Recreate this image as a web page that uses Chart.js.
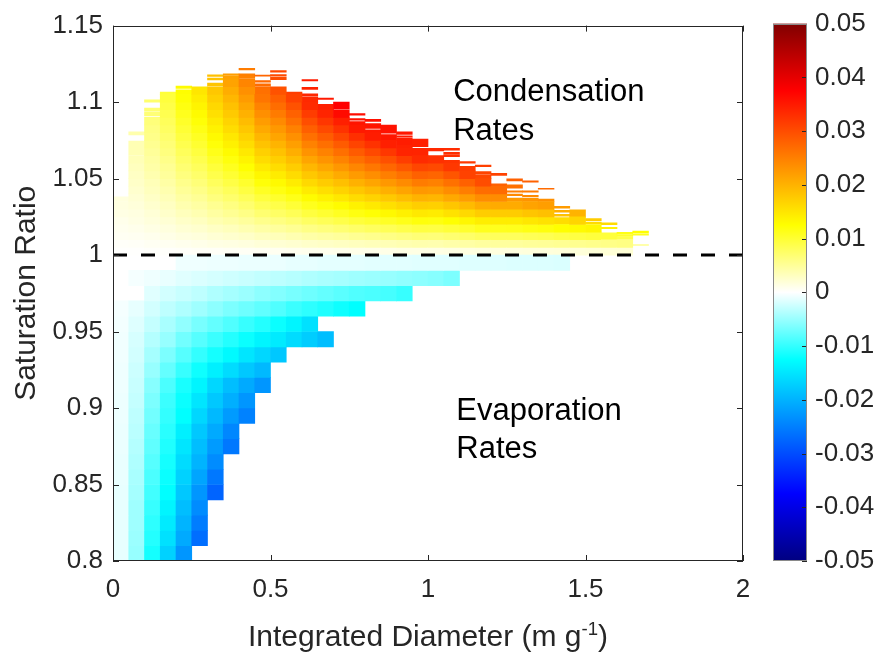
<!DOCTYPE html>
<html>
<head>
<meta charset="utf-8">
<script src="https://cdn.jsdelivr.net/npm/chart.js@4.4.1/dist/chart.umd.min.js"></script>
<style>
  html, body { margin: 0; padding: 0; background: #fff; }
  #wrap { position: relative; width: 877px; height: 654px; overflow: hidden; }
  #main { position: absolute; left: 0; top: 0; }
  #cbar { position: absolute; left: 760px; top: 0; }
  #xtitle {
    position: absolute; left: 113px; width: 630px; top: 619px;
    text-align: center; white-space: nowrap; color: #262626;
    font: 30px "Liberation Sans", Arial, sans-serif; line-height: 34px;
  }
  #xtitle sup { font-size: 0.62em; line-height: 0; vertical-align: 0.6em; }
</style>
</head>
<body>
<div id="wrap">
  <canvas id="main" width="877" height="654"></canvas>
  <canvas id="cbar" width="117" height="654"></canvas>
  <div id="xtitle">Integrated Diameter (m g<sup>-1</sup>)</div>
</div>
<script>
// ---- Data -------------------------------------------------------------
// Left edges of the integrated-diameter bins (m g^-1), each bin 0.05 wide
const diameterEdges = [0.00,0.05,0.10,0.15,0.20,0.25,0.30,0.35,0.40,0.45,0.50,0.55,0.60,0.65,0.70,0.75,0.80,
                       0.85,0.90,0.95,1.00,1.05,1.10,1.15,1.20,1.25,1.30,1.35,1.40,1.45,1.50,1.55,1.60,1.65];
const diameterBin = 0.05;

// Sub-saturated rows: lower edge of each 0.01-tall row, first filled bin, rates (x1e-3)
const evapSaturation = [0.80,0.81,0.82,0.83,0.84,0.85,0.86,0.87,0.88,0.89,0.90,0.91,0.92,0.93,0.94,0.95,0.96,0.97,0.98,0.99];
const evapRow = 0.01;
const evapFirstBin = [0,0,0,0,0,0,0,0,0,0,0,0,0,0,0,0,0,2,1,4];
const evapRates = [
  [-1.2,-5.1,-11.5,-16.9,-22.8],
  [-1.2,-4.9,-10.8,-15.4,-20.8,-26.7],
  [-1.2,-4.7,-10.3,-14.5,-19.9,-25.2],
  [-1.2,-4.7,-9.8,-13.5,-18.9,-23.8],
  [-1.2,-4.4,-9.3,-12.5,-17.9,-22.8,-27.7],
  [-1.1,-4.2,-8.8,-12.0,-16.9,-21.3,-25.7],
  [-1.1,-3.9,-8.3,-11.5,-15.9,-19.9,-23.8],
  [-1.0,-3.7,-7.8,-11.0,-15.0,-18.9,-22.3,-25.7],
  [-1.0,-3.4,-7.4,-10.5,-14.0,-17.9,-20.8,-24.3],
  [-0.9,-3.2,-6.9,-10.0,-12.5,-16.4,-19.4,-22.3,-24.8],
  [-0.9,-2.9,-6.4,-9.6,-12.0,-15.0,-17.9,-20.3,-22.8],
  [-0.8,-2.7,-5.9,-8.8,-11.3,-13.5,-16.4,-18.9,-20.8,-22.8],
  [-0.8,-2.5,-5.1,-7.6,-9.8,-11.8,-14.0,-15.9,-17.9,-19.4],
  [-0.7,-2.2,-4.4,-6.4,-8.3,-10.0,-11.5,-13.0,-15.0,-16.4,-17.9],
  [-0.7,-2.0,-3.7,-5.1,-6.9,-8.3,-9.6,-10.8,-12.0,-13.5,-14.5,-15.9,-17.4,-18.9],
  [-0.6,-1.6,-2.9,-4.2,-5.4,-6.6,-7.6,-8.6,-9.8,-10.8,-12.0,-13.5,-15.4],
  [-0.5,-1.2,-2.2,-3.2,-3.9,-4.7,-5.6,-6.4,-7.1,-7.8,-8.6,-9.6,-10.3,-11.0,-11.8,-12.5],
  [-1.5,-2.2,-2.7,-3.2,-3.9,-4.4,-4.9,-5.6,-6.1,-6.6,-7.1,-7.6,-8.1,-8.6,-8.8,-9.1,-9.8],
  [-0.5,-0.8,-1.1,-1.5,-1.8,-2.1,-2.4,-2.7,-3.0,-3.3,-3.6,-3.9,-4.2,-4.4,-4.7,-4.9,-5.1,-5.4,-5.6,-5.9,-6.4],
  [-0.8,-0.8,-0.9,-0.9,-1.0,-1.0,-1.0,-1.2,-1.2,-1.3,-1.3,-1.3,-1.4,-1.4,-1.4,-1.5,-1.5,-1.5,-1.6,-1.6,-1.6,-1.7,-1.7,-1.7,-1.8]
];

// Supersaturated rows: lower edges of 0.005-tall rows starting at S = 1
const condSaturation = [1.000,1.005,1.010,1.015,1.020,1.025,1.030,1.035,1.040,1.045,1.050,1.055,
                        1.060,1.065,1.070,1.075,1.080,1.085,1.090,1.095,1.100,1.105,1.110];
const condRow = 0.005;
// Rates per diameter bin, bottom row first (x1e-3)
const condRates = [
  [0.1,0.3,0.6,0.8,1.0,1.3,1.5],
  [0.1,0.4,0.7,1.0,1.3,1.5,1.8,2.1,2.4,2.7,2.9,3.2,3.5],
  [0.2,0.6,0.9,1.3,1.7,2.0,2.4,2.8,3.2,3.5,3.9,4.3,4.6,5.0,5.4,5.8,6.1,6.5],
  [0.2,0.7,1.2,1.6,2.1,2.6,3.0,3.5,3.9,4.4,4.9,5.3,5.8,6.3,6.7,7.2,7.7,8.1,8.6,9.0,9.5],
  [0.3,0.9,1.5,2.1,2.7,3.3,3.9,4.5,5.1,5.7,6.3,6.9,7.5,8.1,8.7,9.3,9.9,10.5,11.1,11.7,12.3],
  [0.4,1.1,1.7,2.4,3.1,3.8,4.5,5.2,5.9,6.6,7.3,8.0,8.7,9.4,10.1,10.8,11.5,12.2,12.9,13.6,14.3,15.0],
  [0.4,1.3,2.1,2.9,3.8,4.6,5.4,6.3,7.1,8.0,8.8,9.6,10.5,11.3,12.1,13.0,13.8,14.6,15.5,16.3,17.2,18.0],
  [0.5,1.4,2.4,3.3,4.3,5.3,6.2,7.2,8.1,9.1,10.0,11.0,11.9,12.9,13.9,14.8,15.8,16.7,17.7,18.6,19.6,20.5,21.5],
  [0.5,1.6,2.7,3.8,4.9,6.0,7.1,8.2,9.3,10.3,11.4,12.5,13.6,14.7,15.8,16.9,18.0,19.1,20.1,21.2,22.3,23.4,24.5],
  [0.6,1.9,3.2,4.4,5.7,7.0,8.3,9.5,10.8,12.1,13.3,14.6,15.9,17.1,18.4,19.7,20.9,22.2,23.5,24.7,26.0],
  [0.7,2.1,3.4,4.8,6.2,7.6,8.9,10.3,11.7,13.0,14.4,15.8,17.2,18.5,19.9,21.3,22.6,24.0,25.4,26.8,28.1,29.5],
  [0.8,2.3,3.8,5.3,6.8,8.3,9.8,11.3,12.9,14.4,15.9,17.4,18.9,20.4,21.9,23.4,24.9,26.5,28.0,29.5,31.0],
  [0.9,2.6,4.3,6.0,7.7,9.4,11.1,12.8,14.5,16.2,17.9,19.6,21.3,23.1,24.8,26.5,28.2,29.9,31.6,33.3],
  [0.9,2.8,4.6,6.4,8.3,10.1,11.9,13.8,15.6,17.5,19.3,21.1,23.0,24.8,26.6,28.5,30.3,32.2,34.0],
  [1.0,3.0,4.9,6.9,8.9,10.9,12.8,14.8,16.8,18.7,20.7,22.7,24.7,26.6,28.6,30.6,32.6,34.5,36.5],
  [1.1,3.2,5.3,7.4,9.6,11.7,13.8,15.9,18.0,20.1,22.3,24.4,26.5,28.6,30.8,32.9,35.0],
  [1.1,3.4,5.6,7.9,10.1,12.3,14.6,16.8,19.1,21.3,23.6,25.8,28.1,30.3,32.6,34.8],
  [1.2,3.6,6.0,8.3,10.7,13.1,15.5,17.8,20.2,22.6,25.0,27.4,29.7,32.1,34.5],
  [1.3,3.8,6.3,8.8,11.3,13.9,16.4,18.9,21.4,23.9,26.4,29.0,31.5,34.0],
  [1.3,4.0,6.7,9.3,12.0,14.7,17.3,20.0,22.6,25.3,28.0,30.6,33.3],
  [1.3,3.9,6.6,9.2,11.8,14.4,17.1,19.7,22.3,24.9,27.6,30.2,32.8],
  [1.4,4.2,7.0,9.7,12.5,15.3,18.1,20.9,23.7,26.4,29.2,32.0],
  [1.5,4.4,7.4,10.3,13.3,16.2,19.2,22.1,25.1,28.0,31.0],
  [1.6,4.7,7.9,11.1,14.2,17.4,20.5,23.7,26.8,30.0],
  [1.6,4.8,8.0,11.1,14.3,17.5,20.7,23.8,27.0],
  [1.6,4.8,8.0,11.2,14.3,17.5,20.7],
  [1.7,5.0,8.3,11.6,14.9,18.2,21.5],
  [1.7,5.1,8.5,11.9,15.3,18.7,22.0],
  [1.8,5.3,8.9,12.5],
  [1.8,5.5,9.2,12.9,16.6],
  [1.9,5.7,9.5,13.3],
  [2.0,5.9],
  [2.0,6.1],
  []
];
// Thin, sparsely sampled bands above each column: [bin, S low, S high, rate x1e-3]
const condTopBands = [
  [0,1.035,1.038,1.6],
  [1,1.0655,1.0745,3.7],[1,1.0785,1.0805,4.0],
  [2,1.091,1.0935,6.7],[2,1.094,1.096,6.9],[2,1.100,1.1015,7.2],
  [3,1.105,1.1065,9.7],
  [4,1.105,1.108,12.6],[4,1.109,1.1105,12.8],
  [6,1.1105,1.1125,18.3],[6,1.1145,1.1157,18.5],[6,1.1168,1.1178,18.7],
  [7,1.115,1.117,21.8],[7,1.1175,1.1185,22.0],
  [8,1.1155,1.117,24.8],[8,1.1173,1.1184,25.0],[8,1.121,1.122,25.3],
  [9,1.105,1.109,26.5],[9,1.1093,1.1102,26.8],[9,1.1108,1.1119,26.9],[9,1.113,1.1141,27.2],[9,1.1169,1.1177,27.5],
  [10,1.1147,1.1162,30.0],[10,1.117,1.118,30.2],[10,1.1195,1.1206,30.5],
  [11,1.1052,1.1065,31.5],
  [12,1.100,1.1032,33.5],[12,1.1039,1.1054,33.8],[12,1.1082,1.1097,34.2],[12,1.1138,1.1147,34.8],
  [13,1.095,1.0985,34.5],[13,1.1017,1.1026,35.0],
  [14,1.0955,1.100,37.5],
  [15,1.0852,1.0873,35.5],[15,1.0881,1.0892,35.8],[15,1.0914,1.0925,36.2],
  [16,1.080,1.0818,35.0],[16,1.0828,1.086,35.5],[16,1.0874,1.0887,36.0],
  [17,1.075,1.0788,35.3],[17,1.0797,1.0849,35.8],
  [18,1.070,1.0718,34.3],[18,1.0722,1.0765,34.8],[18,1.077,1.0779,35.0],[18,1.0788,1.0805,35.2],
  [19,1.065,1.0697,34.0],[19,1.0708,1.0758,34.5],
  [20,1.068,1.0697,33.5],
  [21,1.060,1.062,32.5],[21,1.0643,1.0654,32.8],[21,1.0658,1.0671,33.0],[21,1.0686,1.0697,33.2],
  [22,1.055,1.058,31.5],[22,1.060,1.0611,31.8],
  [23,1.050,1.0524,30.5],[23,1.0528,1.0545,30.8],[23,1.0578,1.0589,31.2],
  [24,1.045,1.0465,28.0],[24,1.052,1.0535,31.0],
  [25,1.035,1.0372,22.5],[25,1.0388,1.0398,24.0],[25,1.0411,1.042,25.0],[25,1.0437,1.0459,26.5],[25,1.0485,1.0498,28.0],
  [26,1.035,1.0372,23.0],[26,1.0381,1.039,24.0],[26,1.0411,1.042,25.5],[26,1.0476,1.0485,28.0],
  [27,1.035,1.0366,23.5],[27,1.0431,1.0437,27.0],
  [28,1.020,1.0245,15.8],[28,1.0254,1.0267,18.6],[28,1.0281,1.0292,20.4],[28,1.0307,1.0318,22.3],
  [29,1.025,1.0296,20.0],
  [30,1.0203,1.0216,16.0],[30,1.0225,1.0238,17.5],
  [31,1.010,1.0145,9.6],[31,1.0173,1.0182,13.8],[31,1.0199,1.021,16.0],
  [32,1.0102,1.012,9.0],[32,1.0124,1.0134,10.4],[32,1.0138,1.0149,11.6],
  [33,1.0063,1.0069,5.5],[33,1.013,1.0138,11.0],[33,1.0145,1.0156,12.5]
];

// Axis ticks
const xTicks = [0, 0.5, 1, 1.5, 2];
const yTicks = [0.8, 0.85, 0.9, 0.95, 1, 1.05, 1.1, 1.15];
const colorTicks = [-0.05, -0.04, -0.03, -0.02, -0.01, 0, 0.01, 0.02, 0.03, 0.04, 0.05];
const equilibriumLine = [{x: 0, y: 1}, {x: 2, y: 1}];
const annotations = [
  {text: 'Condensation', x: 1.08, y: 1.1065},
  {text: 'Rates', x: 1.08, y: 1.0805},
  {text: 'Evaporation', x: 1.09, y: 0.898},
  {text: 'Rates', x: 1.09, y: 0.873}
];

// ---- Styling ----------------------------------------------------------
const FONT = '"Liberation Sans", Arial, Helvetica, sans-serif';
const AXIS_COLOR = '#262626';
const RATE_MIN = -0.05, RATE_MAX = 0.05;
// Blue-white-red colour map (jet-like with white at zero)
const colormapStops = [
  [-0.05,   [0, 0, 128]],
  [-0.0375, [0, 0, 255]],
  [-0.0125, [0, 255, 255]],
  [0,       [255, 255, 255]],
  [0.0125,  [255, 255, 0]],
  [0.0375,  [255, 0, 0]],
  [0.05,    [128, 0, 0]]
];
function rateColor(v) {
  v = Math.max(RATE_MIN, Math.min(RATE_MAX, v));
  for (let i = 1; i < colormapStops.length; i++) {
    const [v1, c1] = colormapStops[i];
    if (v <= v1) {
      const [v0, c0] = colormapStops[i - 1];
      const t = (v - v0) / (v1 - v0);
      const c = c0.map((a, k) => Math.round(a + (c1[k] - a) * t));
      return `rgb(${c[0]},${c[1]},${c[2]})`;
    }
  }
  return 'rgb(128,0,0)';
}
const fmt = v => String(Number(Number(v).toFixed(2)));

// ---- Cells ------------------------------------------------------------
const evapCells = [];
evapSaturation.forEach((s, r) => {
  evapRates[r].forEach((rate, i) => {
    const b = evapFirstBin[r] + i;
    evapCells.push({x: diameterEdges[b] + diameterBin / 2, y: [s, s + evapRow], v: rate * 1e-3});
  });
});
const condCells = [];
condRates.forEach((col, b) => {
  col.forEach((rate, r) => {
    const s = condSaturation[r];
    condCells.push({x: diameterEdges[b] + diameterBin / 2, y: [s, s + condRow], v: rate * 1e-3});
  });
});
const bandCells = condTopBands.map(([b, lo, hi, rate]) =>
  ({x: diameterEdges[b] + diameterBin / 2, y: [lo, hi], v: rate * 1e-3}));

const cellColor = ctx => rateColor(ctx.raw.v);

// ---- Plugins ----------------------------------------------------------
const axesFrame = {
  id: 'axesFrame',
  afterDatasetsDraw(chart) {
    const {ctx, chartArea: a, scales: {x, y}} = chart;
    const len = 6;
    ctx.save();
    ctx.strokeStyle = AXIS_COLOR;
    ctx.lineWidth = 1;
    ctx.beginPath();
    xTicks.forEach(t => {
      const px = Math.round(x.getPixelForValue(t)) + 0.5;
      ctx.moveTo(px, a.bottom); ctx.lineTo(px, a.bottom - len);
      ctx.moveTo(px, a.top); ctx.lineTo(px, a.top + len);
    });
    yTicks.forEach(t => {
      const py = Math.round(y.getPixelForValue(t)) + 0.5;
      ctx.moveTo(a.left, py); ctx.lineTo(a.left + len, py);
      ctx.moveTo(a.right, py); ctx.lineTo(a.right - len, py);
    });
    ctx.stroke();
    ctx.strokeRect(Math.round(a.left) + 0.5, Math.round(a.top) + 0.5,
                   Math.round(a.right - a.left) - 1, Math.round(a.bottom - a.top) - 1);
    ctx.restore();
  }
};
const regionLabels = {
  id: 'regionLabels',
  afterDatasetsDraw(chart) {
    const {ctx, scales: {x, y}} = chart;
    ctx.save();
    ctx.fillStyle = '#000';
    ctx.font = `31px ${FONT}`;
    ctx.textAlign = 'left';
    ctx.textBaseline = 'middle';
    annotations.forEach(t => ctx.fillText(t.text, x.getPixelForValue(t.x), y.getPixelForValue(t.y)));
    ctx.restore();
  }
};

// ---- Heat map ---------------------------------------------------------
new Chart(document.getElementById('main'), {
  type: 'bar',
  data: {
    datasets: [
      {type: 'line', data: equilibriumLine, borderColor: '#000', borderWidth: 3,
       borderDash: [14, 14], pointRadius: 0, order: 0},
      {data: evapCells, backgroundColor: cellColor, order: 1},
      {data: condCells, backgroundColor: cellColor, order: 1},
      {data: bandCells, backgroundColor: cellColor, order: 1}
    ]
  },
  options: {
    responsive: false,
    animation: false,
    events: [],
    layout: {padding: {top: 23, right: 134, left: 0, bottom: 0}},
    datasets: {bar: {categoryPercentage: 1, barPercentage: 1, grouped: false, borderWidth: 0}},
    plugins: {legend: {display: false}, tooltip: {enabled: false}},
    scales: {
      x: {
        type: 'linear', min: 0, max: 2, offset: false,
        afterFit(s) { s.height = 93; },
        afterBuildTicks(s) { s.ticks = xTicks.map(v => ({value: v})); },
        ticks: {callback: fmt, padding: 13, color: AXIS_COLOR, font: {family: FONT, size: 26}, maxRotation: 0},
        grid: {display: false, drawTicks: false, offset: false},
        border: {display: false}
      },
      y: {
        type: 'linear', min: 0.8, max: 1.15,
        afterFit(s) { s.width = 113; },
        afterBuildTicks(s) { s.ticks = yTicks.map(v => ({value: v})); },
        ticks: {callback: fmt, padding: 10, color: AXIS_COLOR, font: {family: FONT, size: 26}},
        grid: {display: false, drawTicks: false},
        border: {display: false},
        title: {display: true, text: 'Saturation Ratio', color: AXIS_COLOR,
                font: {family: FONT, size: 30}, padding: {top: 9, bottom: 0}}
      }
    }
  },
  plugins: [axesFrame, regionLabels]
});

// ---- Colour bar -------------------------------------------------------
const colorbarFrame = {
  id: 'colorbarFrame',
  afterDatasetsDraw(chart) {
    const {ctx, chartArea: a, scales: {y}} = chart;
    ctx.save();
    ctx.strokeStyle = AXIS_COLOR;
    ctx.lineWidth = 1;
    ctx.beginPath();
    colorTicks.forEach(t => {
      const py = Math.round(y.getPixelForValue(t)) + 0.5;
      ctx.moveTo(a.right, py); ctx.lineTo(a.right - 5, py);
    });
    ctx.stroke();
    ctx.strokeStyle = '#8a8a8a';
    ctx.strokeRect(Math.round(a.left) + 0.5, Math.round(a.top) + 0.5,
                   Math.round(a.right - a.left) - 1, Math.round(a.bottom - a.top) - 1);
    ctx.restore();
  }
};
new Chart(document.getElementById('cbar'), {
  type: 'bar',
  data: {
    labels: [''],
    datasets: [{
      data: [[RATE_MIN, RATE_MAX]],
      borderWidth: 0, categoryPercentage: 1, barPercentage: 1,
      backgroundColor(ctx) {
        const {chart} = ctx;
        const a = chart.chartArea;
        if (!a) return null;
        const g = chart.ctx.createLinearGradient(0, a.bottom, 0, a.top);
        colormapStops.forEach(([v, c]) =>
          g.addColorStop((v - RATE_MIN) / (RATE_MAX - RATE_MIN), `rgb(${c[0]},${c[1]},${c[2]})`));
        return g;
      }
    }]
  },
  options: {
    responsive: false,
    animation: false,
    events: [],
    layout: {padding: {top: 23, left: 13, right: 0, bottom: 93}},
    plugins: {legend: {display: false}, tooltip: {enabled: false}},
    scales: {
      x: {display: false},
      y: {
        position: 'right', min: RATE_MIN, max: RATE_MAX,
        afterFit(s) { s.width = 70; },
        afterBuildTicks(s) { s.ticks = colorTicks.map(v => ({value: v})); },
        ticks: {callback: fmt, padding: 8, color: AXIS_COLOR, font: {family: FONT, size: 26}},
        grid: {display: false, drawTicks: false},
        border: {display: false}
      }
    }
  },
  plugins: [colorbarFrame]
});
</script>
</body>
</html>
